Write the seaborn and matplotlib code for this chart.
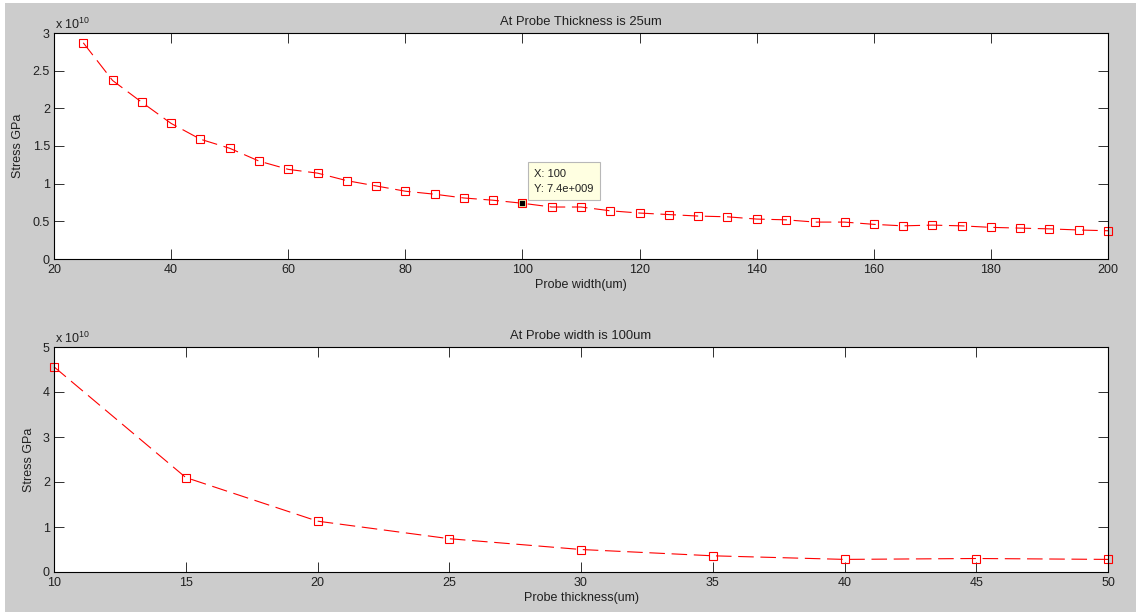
import numpy as np
import pandas as pd
import seaborn as sns
import matplotlib.pyplot as plt
from matplotlib.patches import Rectangle
from matplotlib.ticker import FuncFormatter, MultipleLocator

sns.set_style("ticks")
plt.rcParams["font.family"] = ["Liberation Sans", "DejaVu Sans"]
plt.rcParams["mathtext.fontset"] = "custom"
plt.rcParams["mathtext.rm"] = "Liberation Sans"

# ---------------------------------------------------------
# data (stress in units of 1e10)
# ---------------------------------------------------------
width_um = [25, 30, 35, 40, 45, 50, 55, 60, 65, 70, 75, 80, 85, 90, 95, 100,
            105, 110, 115, 120, 125, 130, 135, 140, 145, 150, 155, 160, 165,
            170, 175, 180, 185, 190, 195, 200]
stress_width = [2.87, 2.37, 2.08, 1.80, 1.59, 1.47, 1.30, 1.19, 1.14, 1.04,
                0.97, 0.90, 0.86, 0.81, 0.78, 0.74, 0.69, 0.69, 0.64, 0.61,
                0.59, 0.57, 0.56, 0.53, 0.52, 0.49, 0.49, 0.46, 0.44, 0.45,
                0.44, 0.42, 0.41, 0.40, 0.385, 0.375]

thick_um = [10, 15, 20, 25, 30, 35, 40, 45, 50]
stress_thick = [4.56, 2.10, 1.13, 0.74, 0.50, 0.36, 0.28, 0.30, 0.28]

cursor_x = [100]
cursor_y = [0.74]
cursor_text = "X: 100\nY: 7.4e+009"

df_w = pd.DataFrame({"width": width_um, "stress": stress_width})
df_t = pd.DataFrame({"thick": thick_um, "stress": stress_thick})

# ---------------------------------------------------------
# figure
# ---------------------------------------------------------
W, H = 1136, 613
fig = plt.figure(figsize=(W / 100, H / 100), dpi=100, facecolor="white")
fig.patches.append(Rectangle((5 / W, 1 / H), 1, (H - 4) / H, transform=fig.transFigure,
                             facecolor="#cccccc", edgecolor="none", zorder=-10))

ax1 = fig.add_axes([54 / W, (H - 259) / H, 1054 / W, 226 / H])
ax2 = fig.add_axes([54 / W, (H - 572) / H, 1054 / W, 225 / H])

line_kws = dict(color="red", marker="s", markersize=6.2, markerfacecolor="none",
                markeredgecolor="red", markeredgewidth=0.8, linewidth=0.8,
                linestyle=(0, (14, 6)))

sns.lineplot(data=df_w, x="width", y="stress", ax=ax1, **line_kws)
sns.lineplot(data=df_t, x="thick", y="stress", ax=ax2, **line_kws)

# make sure the open squares are plain red
for ax in (ax1, ax2):
    for ln in ax.lines:
        ln.set_markeredgecolor("red")
        ln.set_markerfacecolor("none")
        ln.set_clip_on(False)

# data cursor on the top plot
ax1.plot(cursor_x, cursor_y, "s", color="black", markersize=5,
         markeredgecolor="#e8e0a0", markeredgewidth=0.6, zorder=5)
ax1.annotate(cursor_text, xy=(cursor_x[0], cursor_y[0]), xytext=(8.5, 7),
             textcoords="offset points", ha="left", va="bottom", fontsize=8,
             linespacing=1.55, color="#202020",
             bbox=dict(boxstyle="square,pad=0.6", fc="#ffffe1", ec="#b8b8b8", lw=0.8),
             zorder=6)

fmt = FuncFormatter(lambda v, p: f"{v:g}")

def style_axes(ax, xlim, ylim, xstep, ystep, title, xlabel):
    ax.set_xlim(*xlim)
    ax.set_ylim(*ylim)
    ax.xaxis.set_major_locator(MultipleLocator(xstep))
    ax.yaxis.set_major_locator(MultipleLocator(ystep))
    ax.yaxis.set_major_formatter(fmt)
    ax.xaxis.set_major_formatter(fmt)
    ax.set_facecolor("white")
    for s in ax.spines.values():
        s.set_color("black")
        s.set_linewidth(0.8)
        s.set_visible(True)
    ax.tick_params(direction="in", length=7.5, width=0.7, top=True, right=True,
                   labelsize=9, color="#303030", labelcolor="#202020")
    ax.tick_params(axis="x", pad=3.5)
    ax.tick_params(axis="y", pad=3)
    ax.set_title(title, fontsize=9.4, pad=6, color="#202020")
    ax.set_xlabel(xlabel, fontsize=9, labelpad=2.5, color="#202020")
    ax.set_ylabel("Stress GPa", fontsize=9, labelpad=6, color="#202020")
    ax.text(0.001, 1.005, r"x 10$^{10}$", transform=ax.transAxes, fontsize=9,
            ha="left", va="bottom", color="#202020")

style_axes(ax1, (20, 200), (0, 3), 20, 0.5, "At Probe Thickness is 25um", "Probe width(um)")
style_axes(ax2, (10, 50), (0, 5), 5, 1, "At Probe width is 100um", "Probe thickness(um)")

fig.savefig("out.png", dpi=100, facecolor=fig.get_facecolor())
